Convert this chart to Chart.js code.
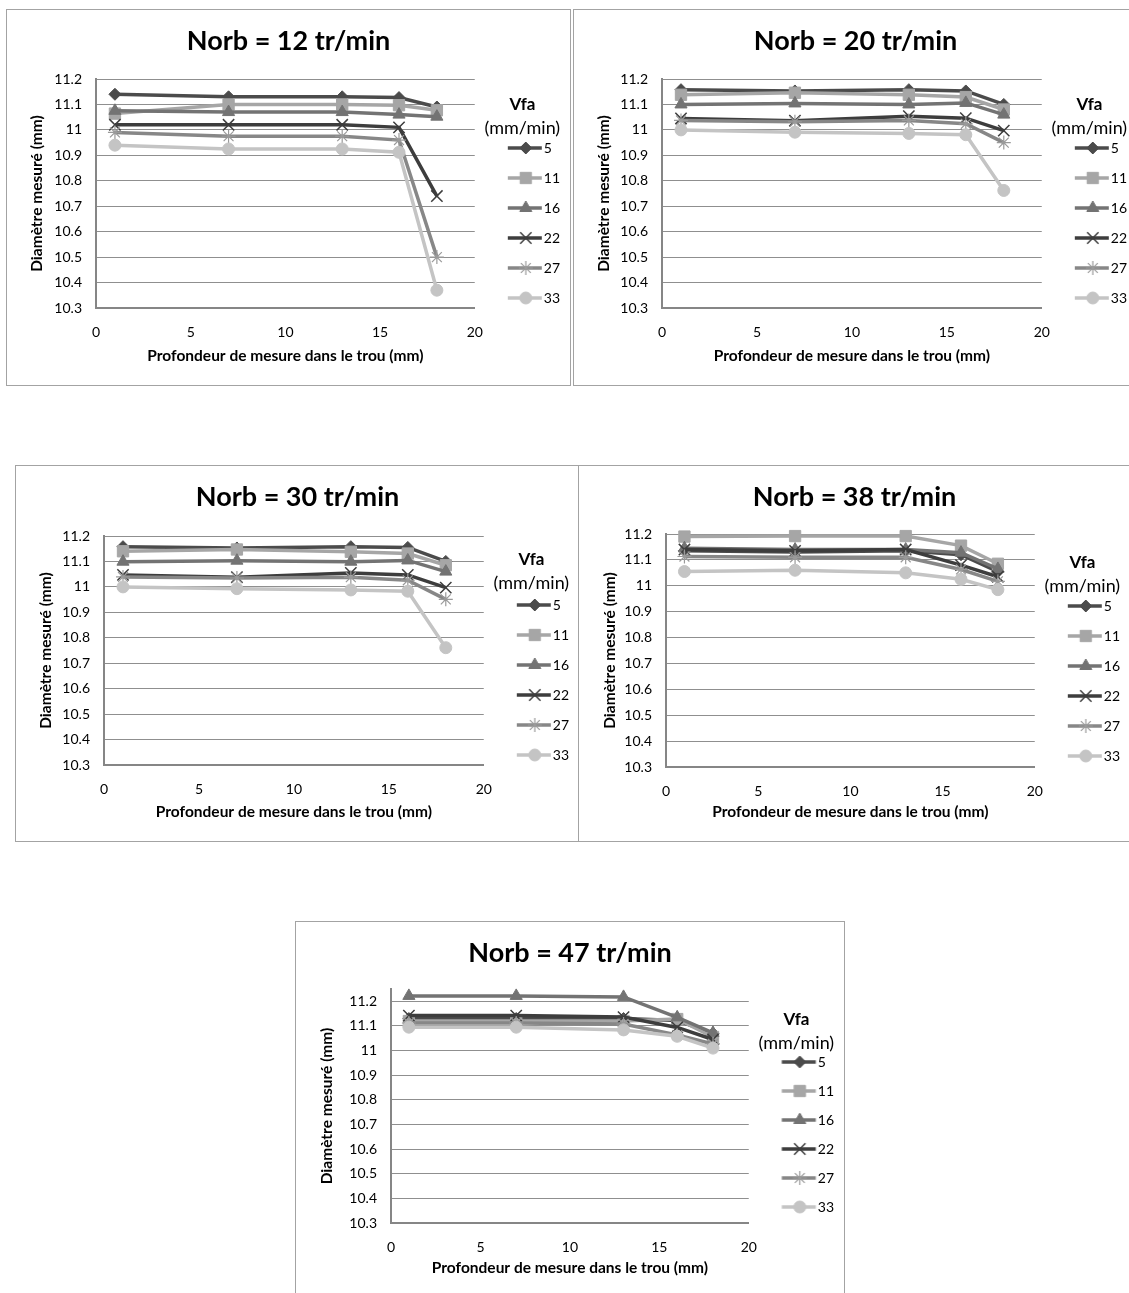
<!DOCTYPE html>
<html>
<head>
<meta charset="utf-8">
<script src="https://cdn.jsdelivr.net/npm/chart.js@4.4.1/dist/chart.umd.min.js"></script>
<style>
  body { margin: 0; background: #fff; width: 1129px; height: 1293px; overflow: hidden; position: relative; }
  .box { position: absolute; border: 1px solid #a3a3a3; background: #fff; }
  canvas { display: block; }
</style>
</head>
<body>
<div class="box" style="left:6px;top:9px"><canvas id="c12" width="563" height="375"></canvas></div>
<div class="box" style="left:573px;top:9px"><canvas id="c20" width="563" height="375"></canvas></div>
<div class="box" style="left:15px;top:465px"><canvas id="c30" width="563" height="375"></canvas></div>
<div class="box" style="left:578px;top:465px"><canvas id="c38" width="551" height="375"></canvas></div>
<div class="box" style="left:295px;top:921px"><canvas id="c47" width="548" height="375"></canvas></div>
<script>
// profondeur de mesure (mm)
const depths = [1, 7, 13, 16, 18];
// Vfa (mm/min)
const vfaLabels = ['5', '11', '16', '22', '27', '33'];

// diamètre mesuré, une ligne par Vfa (5, 11, 16, 22, 27, 33)
const norb12 = [
  [11.14, 11.13, 11.13, 11.127, 11.09],
  [11.064, 11.10, 11.10, 11.097, 11.077],
  [11.075, 11.07, 11.07, 11.06, 11.052],
  [11.02, 11.02, 11.02, 11.01, 10.74],
  [10.99, 10.975, 10.975, 10.96, 10.50],
  [10.94, 10.925, 10.925, 10.912, 10.37]
];
const norb20 = [
  [11.158, 11.153, 11.158, 11.153, 11.10],
  [11.138, 11.146, 11.138, 11.129, 11.08],
  [11.10, 11.104, 11.10, 11.106, 11.06],
  [11.045, 11.036, 11.054, 11.046, 10.997],
  [11.037, 11.032, 11.037, 11.024, 10.95],
  [11.0, 10.991, 10.986, 10.981, 10.762]
];
const norb30 = [
  [11.158, 11.153, 11.158, 11.155, 11.10],
  [11.14, 11.147, 11.138, 11.131, 11.085],
  [11.099, 11.103, 11.099, 11.104, 11.06],
  [11.047, 11.038, 11.055, 11.047, 10.997],
  [11.039, 11.035, 11.038, 11.026, 10.951],
  [11.0, 10.993, 10.988, 10.983, 10.761]
];
const norb38 = [
  [11.135, 11.13, 11.135, 11.12, 11.055],
  [11.19, 11.192, 11.192, 11.155, 11.085],
  [11.145, 11.14, 11.14, 11.128, 11.065],
  [11.14, 11.135, 11.14, 11.08, 11.035],
  [11.113, 11.11, 11.11, 11.063, 11.017],
  [11.055, 11.06, 11.05, 11.025, 10.985]
];
const norb47 = [
  [11.13, 11.13, 11.13, 11.122, 11.07],
  [11.12, 11.12, 11.12, 11.128, 11.055],
  [11.222, 11.222, 11.218, 11.135, 11.072],
  [11.142, 11.142, 11.136, 11.094, 11.045],
  [11.112, 11.112, 11.108, 11.063, 11.027],
  [11.095, 11.095, 11.084, 11.058, 11.01]
];

const chartTitles = ['Norb = 12 tr/min', 'Norb = 20 tr/min', 'Norb = 30 tr/min', 'Norb = 38 tr/min', 'Norb = 47 tr/min'];
const xTitle = 'Profondeur de mesure dans le trou (mm)';
const yTitle = 'Diamètre mesuré (mm)';

Chart.defaults.font.family = 'Lato, "Open Sans", sans-serif';
Chart.defaults.color = '#000';

// style Excel en niveaux de gris
const seriesStyle = [
  { color: '#4b4b4b', point: 'rectRot', radius: 6, fill: '#4b4b4b', stroke: '#4b4b4b', bw: 1 },
  { color: '#a6a6a6', point: 'rect', radius: 8, fill: '#a6a6a6', stroke: '#a6a6a6', bw: 1 },
  { color: '#737373', point: 'triangle', radius: 7, fill: '#737373', stroke: '#737373', bw: 1 },
  { color: '#3d3d3d', point: 'crossRot', radius: 8, fill: '#3d3d3d', stroke: '#3d3d3d', bw: 1.5 },
  { color: '#878787', point: 'star', radius: 7, fill: '#878787', stroke: '#9a9a9a', bw: 1.2 },
  { color: '#c4c4c4', point: 'circle', radius: 6, fill: '#c4c4c4', stroke: '#c4c4c4', bw: 1 }
];

const panels = [
  { id: 'c12', values: norb12, w: 563, h: 375, l: 89, r: 459, t: 69, b: 298, yMax: 11.2, gap: 16, vfaY: 95, firstY: 138, yTitleX: 30 },
  { id: 'c20', values: norb20, w: 563, h: 375, l: 88, r: 458, t: 69, b: 298, yMax: 11.2, gap: 16, vfaY: 95, firstY: 138, yTitleX: 30 },
  { id: 'c30', values: norb30, w: 563, h: 375, l: 88, r: 458, t: 70, b: 299, yMax: 11.2, gap: 16, vfaY: 94, firstY: 139, yTitleX: 30 },
  { id: 'c38', values: norb38, w: 551, h: 375, l: 87, r: 447, t: 68, b: 301, yMax: 11.2, gap: 16, vfaY: 97, firstY: 140, yTitleX: 31 },
  { id: 'c47', values: norb47, w: 548, h: 375, l: 95, r: 448, t: 67, b: 301, yMax: 11.25, gap: 15, vfaY: 98, firstY: 140, yTitleX: 31 }
];

// icône de légende : trait + marqueur
function makeIcon(s, pad, pw) {
  const W = 64, H = 20;
  const c = document.createElement('canvas');
  c.width = W; c.height = H;
  const g = c.getContext('2d');
  const shift = W / 2 - (pad + pw / 2);
  g.strokeStyle = s.color;
  g.lineWidth = 3.5;
  g.beginPath();
  g.moveTo(33 + shift, H / 2);
  g.lineTo(67 + shift, H / 2);
  g.stroke();
  g.fillStyle = s.fill;
  g.strokeStyle = s.stroke;
  g.lineWidth = s.bw;
  Chart.helpers.drawPoint(g, { pointStyle: s.point, radius: s.radius, rotation: 0, borderWidth: s.bw }, 51 + shift, H / 2);
  return c;
}

const vfaLegend = {
  id: 'vfaLegend',
  beforeLayout(chart, args, opts) {
    if (chart.legend) {
      chart.legend.afterFit = function () { this.width = opts.width; };
    }
  },
  afterDraw(chart, args, opts) {
    const lg = chart.legend;
    const ctx = chart.ctx;
    ctx.save();
    ctx.font = '18px Lato';
    ctx.fillStyle = '#000';
    ctx.textAlign = 'center';
    ctx.textBaseline = 'middle';
    ctx.fillText('(mm/min)', lg.left + lg.width / 2, opts.unitY);
    ctx.restore();
  }
};

function buildChart(p, title) {
  const pad = p.gap;
  const pw = 69 - pad - 7;
  const icons = seriesStyle.map(s => makeIcon(s, pad, pw));
  const titleTop = 31 - 16.2;

  const datasets = p.values.map((vals, i) => {
    const s = seriesStyle[i];
    return {
      label: vfaLabels[i],
      data: depths.map((d, k) => ({ x: d, y: vals[k] })),
      borderColor: s.color,
      backgroundColor: s.fill,
      borderWidth: 3.5,
      tension: 0,
      pointStyle: s.point,
      pointRadius: s.radius,
      pointBackgroundColor: s.fill,
      pointBorderColor: s.stroke,
      pointBorderWidth: s.bw,
      order: 5 - i,
      clip: false
    };
  });

  return new Chart(document.getElementById(p.id), {
    type: 'line',
    data: { datasets },
    options: {
      responsive: false,
      animation: false,
      layout: { padding: 0 },
      plugins: {
        title: {
          display: true,
          text: title,
          color: '#000',
          font: { size: 27, weight: 'bold' },
          padding: { top: titleTop, bottom: p.t - titleTop - 32.4 }
        },
        legend: {
          position: 'right',
          align: 'start',
          title: {
            display: true,
            text: 'Vfa',
            color: '#000',
            font: { size: 17, weight: 'bold' },
            padding: { top: p.vfaY - 8.5, bottom: p.firstY - 7 - pad - 20.4 - (p.vfaY - 8.5) }
          },
          labels: {
            usePointStyle: true,
            pointStyleWidth: pw,
            padding: pad,
            color: '#000',
            font: { size: 14 },
            generateLabels: chart => chart.data.datasets.map((ds, i) => ({
              text: ds.label,
              pointStyle: icons[i],
              fontColor: '#000',
              fillStyle: 'rgba(0,0,0,0)',
              strokeStyle: 'rgba(0,0,0,0)',
              lineWidth: 0,
              hidden: false,
              datasetIndex: i
            }))
          }
        },
        tooltip: { enabled: false },
        vfaLegend: { width: p.w - p.r, unitY: p.vfaY + 23 }
      },
      scales: {
        x: {
          type: 'linear',
          min: 0,
          max: 20,
          ticks: { stepSize: 5, padding: 16, maxRotation: 0, color: '#000', font: { size: 14 } },
          grid: { display: false, drawTicks: false },
          border: { color: '#868686', width: 2 },
          title: {
            display: true,
            text: xTitle,
            color: '#000',
            font: { size: 15.5, weight: 'bold' },
            padding: { top: 0, bottom: p.h - 346 - 9.3 }
          },
          afterFit: s => { s.height = p.h - p.b; }
        },
        y: {
          min: 10.3,
          max: p.yMax,
          ticks: {
            stepSize: 0.1,
            includeBounds: false,
            autoSkip: false,
            padding: 14,
            color: '#000',
            font: { size: 14 },
            callback: v => String(Math.round(v * 10) / 10)
          },
          grid: { color: '#8f8f8f', lineWidth: 1, drawTicks: false },
          border: { color: '#868686', width: 2 },
          title: {
            display: true,
            text: yTitle,
            color: '#000',
            font: { size: 15.5, weight: 'bold' },
            padding: { top: p.yTitleX - 9.3, bottom: 0 }
          },
          afterFit: s => { s.width = p.l; }
        }
      }
    },
    plugins: [vfaLegend]
  });
}

panels.forEach((p, i) => buildChart(p, chartTitles[i]));
</script>
</body>
</html>
